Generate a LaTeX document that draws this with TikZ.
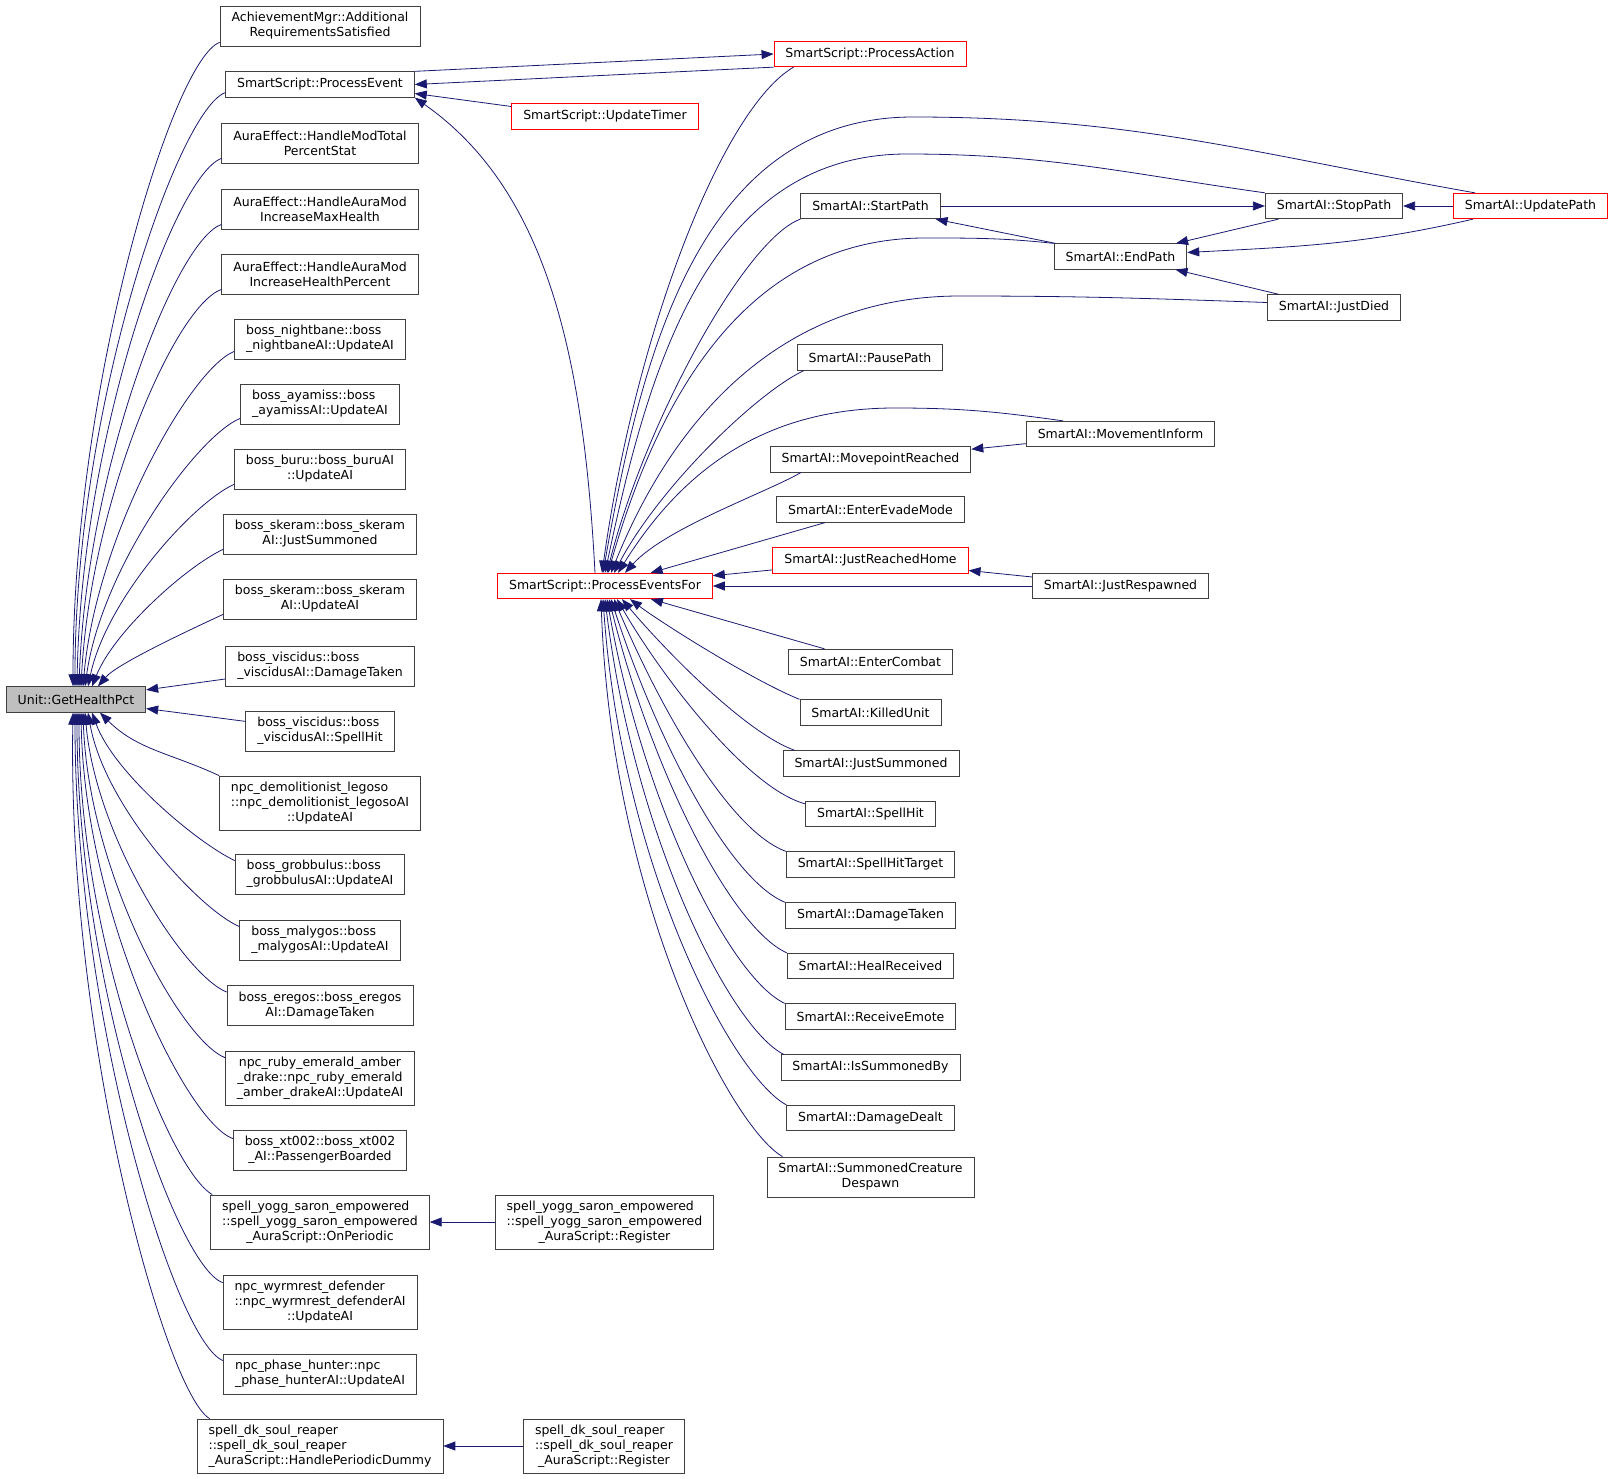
\documentclass[tikz,border=0pt]{standalone}
\usepackage{fontspec}
\setmainfont{DejaVu Sans}
\usetikzlibrary{arrows.meta}
\definecolor{edgeBlue}{RGB}{25,25,112}
\tikzset{
    % Boxes
    fn/.style={rectangle, draw=black!75, fill=white, line width=0.8pt,
               font=\fontsize{12.5}{15}\selectfont, inner xsep=11.5pt, inner ysep=3pt,
               minimum height=25.5pt, align=center},
    fnRed/.style={fn, draw=red},
    fnCur/.style={fn, fill=black!25},
    twoline/.style={minimum height=40pt},
    threeline/.style={minimum height=54pt},
    lft/.style={align=left},
    % Calls
    call/.style={-{Triangle[length=12pt, width=9pt]}, draw=edgeBlue, line width=0.8pt}
}

\begin{document}
\begin{tikzpicture}[x=1pt, y=1pt]
\useasboundingbox (0,0) rectangle (1615,-1479);

% the function itself
\node[fnCur] (unit) at (76,-699.5) {Unit::GetHealthPct};

% direct callers
\node[fn, twoline] (ach) at (320,-26) {AchievementMgr::Additional\\RequirementsSatisfied};
\node[fn] (pevent) at (320,-84.5) {SmartScript::ProcessEvent};
\node[fn, twoline] (modtotal) at (320,-143) {AuraEffect::HandleModTotal\\PercentStat};
\node[fn, twoline] (maxhealth) at (320,-209) {AuraEffect::HandleAuraMod\\IncreaseMaxHealth};
\node[fn, twoline] (healthpct) at (320,-274) {AuraEffect::HandleAuraMod\\IncreaseHealthPercent};
\node[fn, twoline, lft] (nightbane) at (320,-339) {boss\_nightbane::boss\\\_nightbaneAI::UpdateAI};
\node[fn, twoline, lft] (ayamiss) at (320,-404) {boss\_ayamiss::boss\\\_ayamissAI::UpdateAI};
\node[fn, twoline] (buru) at (320,-469) {boss\_buru::boss\_buruAI\\::UpdateAI};
\node[fn, twoline] (skeramjs) at (320,-534) {boss\_skeram::boss\_skeram\\AI::JustSummoned};
\node[fn, twoline] (skeramua) at (320,-599) {boss\_skeram::boss\_skeram\\AI::UpdateAI};
\node[fn, twoline, lft] (viscdt) at (320,-666) {boss\_viscidus::boss\\\_viscidusAI::DamageTaken};
\node[fn, twoline, lft] (viscsh) at (320,-731) {boss\_viscidus::boss\\\_viscidusAI::SpellHit};
\node[fn, threeline, lft] (demo) at (320,-803) {npc\_demolitionist\_legoso\\::npc\_demolitionist\_legosoAI\\\hfil::UpdateAI};
\node[fn, twoline, lft] (grob) at (320,-874) {boss\_grobbulus::boss\\\_grobbulusAI::UpdateAI};
\node[fn, twoline, lft] (maly) at (320,-940) {boss\_malygos::boss\\\_malygosAI::UpdateAI};
\node[fn, twoline] (eregos) at (320,-1005.5) {boss\_eregos::boss\_eregos\\AI::DamageTaken};
\node[fn, threeline] (ruby) at (320,-1078) {npc\_ruby\_emerald\_amber\\\_drake::npc\_ruby\_emerald\\\_amber\_drakeAI::UpdateAI};
\node[fn, twoline] (xt002) at (320,-1150) {boss\_xt002::boss\_xt002\\\_AI::PassengerBoarded};
\node[fn, threeline, lft] (yogg) at (320,-1222) {spell\_yogg\_saron\_empowered\\::spell\_yogg\_saron\_empowered\\\hfil\_AuraScript::OnPeriodic};
\node[fn, threeline, lft] (wyrm) at (320,-1302) {npc\_wyrmrest\_defender\\::npc\_wyrmrest\_defenderAI\\\hfil::UpdateAI};
\node[fn, twoline, lft] (phase) at (320,-1374) {npc\_phase\_hunter::npc\\\_phase\_hunterAI::UpdateAI};
\node[fn, threeline, lft] (dk) at (320,-1446) {spell\_dk\_soul\_reaper\\::spell\_dk\_soul\_reaper\\\_AuraScript::HandlePeriodicDummy};

% smart script
\node[fnRed] (paction) at (870,-54) {SmartScript::ProcessAction};
\node[fnRed] (utimer) at (605,-116.5) {SmartScript::UpdateTimer};
\node[fnRed] (pef) at (605,-586) {SmartScript::ProcessEventsFor};
\node[fn, threeline, lft] (yreg) at (604.5,-1222) {spell\_yogg\_saron\_empowered\\::spell\_yogg\_saron\_empowered\\\hfil\_AuraScript::Register};
\node[fn, threeline, lft] (dkreg) at (604,-1446) {spell\_dk\_soul\_reaper\\::spell\_dk\_soul\_reaper\\\hfil\_AuraScript::Register};

% smart AI hooks
\node[fn] (spath) at (870.5,-206) {SmartAI::StartPath};
\node[fn] (ppath) at (870,-357.5) {SmartAI::PausePath};
\node[fn] (mreached) at (870.5,-459.5) {SmartAI::MovepointReached};
\node[fn] (evade) at (870.5,-509.5) {SmartAI::EnterEvadeMode};
\node[fnRed] (jrh) at (870.5,-560.5) {SmartAI::JustReachedHome};
\node[fn] (ecombat) at (870.5,-662) {SmartAI::EnterCombat};
\node[fn] (kunit) at (870.5,-712.5) {SmartAI::KilledUnit};
\node[fn] (jsum) at (871,-763.5) {SmartAI::JustSummoned};
\node[fn] (shit) at (870.5,-814) {SmartAI::SpellHit};
\node[fn] (shtarget) at (870.5,-864.5) {SmartAI::SpellHitTarget};
\node[fn] (dtaken) at (870.5,-915.5) {SmartAI::DamageTaken};
\node[fn] (heal) at (870.5,-966) {SmartAI::HealReceived};
\node[fn] (emote) at (870.5,-1016.5) {SmartAI::ReceiveEmote};
\node[fn] (issum) at (870.5,-1067.5) {SmartAI::IsSummonedBy};
\node[fn] (ddealt) at (870.5,-1118) {SmartAI::DamageDealt};
\node[fn, twoline] (scd) at (870.5,-1177) {SmartAI::SummonedCreature\\Despawn};

\node[fn] (endpath) at (1120.5,-256.5) {SmartAI::EndPath};
\node[fn] (minform) at (1120.5,-434) {SmartAI::MovementInform};
\node[fn] (jresp) at (1120.5,-586) {SmartAI::JustRespawned};
\node[fn] (stoppath) at (1334,-206) {SmartAI::StopPath};
\node[fn] (jdied) at (1334,-307.5) {SmartAI::JustDied};
\node[fnRed] (upath) at (1530.5,-206) {SmartAI::UpdatePath};

% bends of the long calls
\coordinate (upk) at (913,-117);
\coordinate (spk) at (907,-154);
\coordinate (epk) at (925,-238);
\coordinate (jpk) at (960,-296);
\coordinate (mpk) at (895,-408);

% callers above
\draw[call] ([yshift=4pt]ach.south west) to[out=200, in=90, out distance=50pt, in distance=300pt] ([xshift=-3pt]unit.north);
\draw[call] ([yshift=5pt]pevent.south west) to[out=200, in=90, out distance=50pt, in distance=280pt] ([xshift=-1pt]unit.north);
\draw[call] ([yshift=5pt]modtotal.south west) to[out=200, in=89, out distance=50pt, in distance=250pt] ([xshift=1pt]unit.north);
\draw[call] ([yshift=5pt]maxhealth.south west) to[out=200, in=88, out distance=50pt, in distance=215pt] ([xshift=3pt]unit.north);
\draw[call] ([yshift=5pt]healthpct.south west) to[out=200, in=87, out distance=50pt, in distance=185pt] ([xshift=5pt]unit.north);
\draw[call] ([yshift=8pt]nightbane.south west) to[out=202, in=85, out distance=48pt, in distance=150pt] ([xshift=7pt]unit.north);
\draw[call] ([yshift=6pt]ayamiss.south west) to[out=202, in=82, out distance=46pt, in distance=120pt] ([xshift=9pt]unit.north);
\draw[call] ([yshift=5pt]buru.south west) to[out=204, in=78, out distance=44pt, in distance=90pt] ([xshift=12pt]unit.north);
\draw[call] ([yshift=5pt]skeramjs.south west) to[out=205, in=68, out distance=40pt, in distance=60pt] ([xshift=16pt]unit.north);
\draw[call] ([yshift=5pt]skeramua.south west) to[out=205, in=50, out distance=30pt, in distance=30pt] ([xshift=22pt]unit.north);
\draw[call] (viscdt) -- (unit);
\draw[call] (viscsh) -- (unit);
% callers below
\draw[call] (demo.north west) to[out=155, in=-45] ([xshift=24pt]unit.south);
\draw[call] ([yshift=-7pt]grob.north west) to[out=155, in=-70, out distance=40pt, in distance=65pt] ([xshift=16pt]unit.south);
\draw[call] ([yshift=-7pt]maly.north west) to[out=157, in=-80, out distance=44pt, in distance=95pt] ([xshift=12pt]unit.south);
\draw[call] ([yshift=-7pt]eregos.north west) to[out=158, in=-85, out distance=46pt, in distance=125pt] ([xshift=9pt]unit.south);
\draw[call] ([yshift=-7pt]ruby.north west) to[out=158, in=-88, out distance=48pt, in distance=160pt] ([xshift=7pt]unit.south);
\draw[call] ([yshift=-9pt]xt002.north west) to[out=160, in=-89, out distance=50pt, in distance=200pt] ([xshift=5pt]unit.south);
\draw[call] ([xshift=2pt]yogg.north west) to[out=150, in=-90, out distance=50pt, in distance=230pt] ([xshift=3pt]unit.south);
\draw[call] ([yshift=-8pt]wyrm.north west) to[out=160, in=-90, out distance=50pt, in distance=270pt] ([xshift=1pt]unit.south);
\draw[call] ([yshift=-7pt]phase.north west) to[out=160, in=-90, out distance=50pt, in distance=305pt] ([xshift=-1pt]unit.south);
\draw[call] ([xshift=13pt]dk.north west) to[out=150, in=-91, out distance=50pt, in distance=330pt] ([xshift=-3pt]unit.south);

% smart script calls
\draw[call] (pevent.north east) -- (paction.west);
\draw[call] (paction.south west) -- (pevent.east);
\draw[call] ([yshift=10pt]utimer.west) -- ([yshift=-9pt]pevent.east);
\draw[call] ([xshift=-10pt]pef.north) to[out=93, in=-35, out distance=220pt, in distance=160pt] (pevent.south east);
\draw[call] (yreg) -- (yogg);
\draw[call] (dkreg) -- (dk);

% into ProcessEventsFor from above
\draw[call] ([xshift=20pt]paction.south west) to[out=210, in=82, out distance=80pt, in distance=250pt] ([xshift=-3pt]pef.north);
\draw[call] ([xshift=22pt]upath.north west) to[out=170, in=0] (upk) to[out=180, in=80] ([xshift=-2pt]pef.north);
\draw[call] (stoppath.north west) to[out=172, in=0] (spk) to[out=180, in=78] (pef.north);
\draw[call] (spath.south west) to[out=200, in=76, out distance=60pt, in distance=150pt] ([xshift=2pt]pef.north);
\draw[call] (endpath.north west) to[out=174, in=0] (epk) to[out=180, in=74] ([xshift=3pt]pef.north);
\draw[call] ([yshift=5pt]jdied.west) to[out=178, in=0] (jpk) to[out=180, in=68] ([xshift=6pt]pef.north);
\draw[call] ([xshift=7pt]ppath.south west) to[out=205, in=62, out distance=50pt, in distance=100pt] ([xshift=9pt]pef.north);
\draw[call] ([xshift=37pt]minform.north west) to[out=172, in=0] (mpk) to[out=180, in=58] ([xshift=13pt]pef.north);
\draw[call] ([xshift=31pt]mreached.south west) to[out=210, in=48, out distance=40pt, in distance=60pt] ([xshift=20pt]pef.north);
\draw[call] (evade) -- (pef);
\draw[call] (jrh) -- (pef);
\draw[call] (jresp) -- (pef);
% into ProcessEventsFor from below
\draw[call] (ecombat) -- (pef);
\draw[call] (kunit.north west) to[out=158, in=-37, out distance=50pt, in distance=40pt] ([xshift=25pt]pef.south);
\draw[call] ([xshift=12pt]jsum.north west) to[out=160, in=-50, out distance=55pt, in distance=60pt] ([xshift=17pt]pef.south);
\draw[call] ([yshift=-3pt]shit.north west) to[out=165, in=-60, out distance=60pt, in distance=90pt] ([xshift=12pt]pef.south);
\draw[call] (shtarget.north west) to[out=160, in=-67, out distance=60pt, in distance=120pt] ([xshift=9pt]pef.south);
\draw[call] (dtaken.north west) to[out=158, in=-72, out distance=60pt, in distance=150pt] ([xshift=6pt]pef.south);
\draw[call] (heal.north west) to[out=156, in=-76, out distance=60pt, in distance=180pt] ([xshift=4pt]pef.south);
\draw[call] (emote.north west) to[out=155, in=-80, out distance=60pt, in distance=210pt] ([xshift=2pt]pef.south);
\draw[call] ([xshift=3pt]issum.north west) to[out=153, in=-83, out distance=60pt, in distance=240pt] (pef.south);
\draw[call] (ddealt.north west) to[out=152, in=-86, out distance=60pt, in distance=270pt] ([xshift=-2pt]pef.south);
\draw[call] ([xshift=16pt]scd.north west) to[out=150, in=-88, out distance=60pt, in distance=300pt] ([xshift=-4pt]pef.south);

% path handling
\draw[call] (spath) -- (stoppath);
\draw[call] (endpath) -- (spath);
\draw[call] (stoppath) -- (endpath);
\draw[call] (upath) -- (stoppath);
\draw[call] ([xshift=20pt]upath.south west) to[out=193, in=3] ([yshift=4pt]endpath.east);
\draw[call] (jdied) -- (endpath);
\draw[call] (minform) -- (mreached);
\draw[call] (jresp) -- (jrh);

\end{tikzpicture}
\end{document}
